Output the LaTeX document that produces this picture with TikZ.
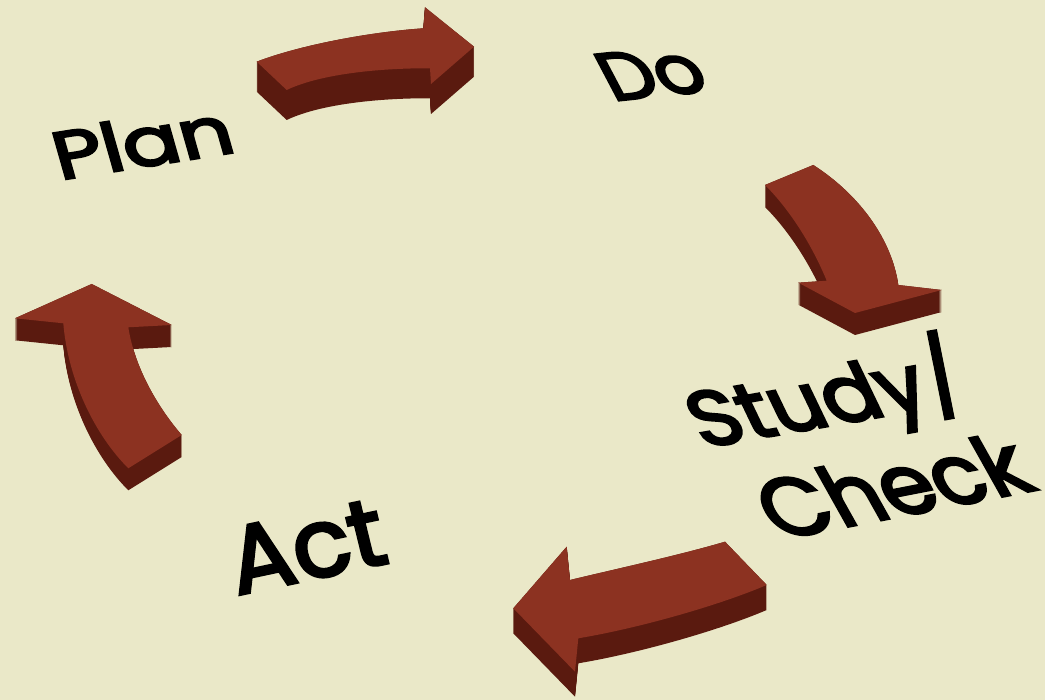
\documentclass[tikz,border=0pt]{standalone}
\usepackage{fontspec}
\setmainfont{Poppins}
\newfontfamily\lblfont{Poppins}[FakeBold=3.5]
\usepackage{graphicx}
\definecolor{bg}{RGB}{234,232,200}
\definecolor{topc}{RGB}{140,50,33}
\definecolor{sidec}{RGB}{90,26,15}
\tikzset{
  topface/.style={fill=topc},
  sideface/.style={fill=sidec},
  lbl/.style={inner sep=0pt, anchor=base west, font=\lblfont, text=black},
}
\def\arrowA{(256.7,61.7) .. controls (300,45) and (370,32) .. (423.3,28.3) -- (425,7.3) -- (474,46.7) -- (431,84) -- (430,68.3) .. controls (380,68) and (320,74) .. (286.7,90) -- cycle}
\def\arrowB{(813.3,165) .. controls (860,195) and (892,240) .. (898.3,285) -- (941.7,290) -- (855,313) -- (798.3,282.7) -- (826.7,280.7) .. controls (812,245) and (790,210) .. (765,185) -- cycle}
\def\arrowC{(725,541.7) -- (766.7,585) .. controls (720,605) and (640,628) .. (578.3,638.3) -- (575,671.7) -- (513.3,608.3) -- (566.7,546.7) -- (570,580) .. controls (620,568) and (680,555) .. (725,541.7) -- cycle}
\def\arrowD{(15,318.3) -- (91.7,284) -- (171.7,325) -- (128.3,327.3) .. controls (135,370) and (160,410) .. (181.7,435) -- (128.3,468.3) .. controls (95,435) and (68,380) .. (63.3,323.3) -- cycle}
\begin{document}
\begin{tikzpicture}[x=1pt,y=-1pt]
\fill[bg] (0,0) rectangle (1045,700);
\useasboundingbox (0,0) rectangle (1045,700);
% extruded sides
\foreach \t in {0,1,...,30} { \fill[sideface, shift={(0,\t)}] \arrowA; }
\foreach \t in {0,1,...,22} { \fill[sideface, shift={(0,\t)}] \arrowB; }
\foreach \t in {0,1,...,25} { \fill[sideface, shift={(0,\t)}] \arrowC; }
\foreach \t in {0,1,...,22} { \fill[sideface, shift={(0,\t)}] \arrowD; }
% top faces
\fill[topface] \arrowA;
\fill[topface] \arrowB;
\fill[topface] \arrowC;
\fill[topface] \arrowD;
% labels
\node[lbl, rotate=9, xslant=-0.12] (plan) at (60,180) {\resizebox{180pt}{50pt}{Plan}};
\node[lbl, rotate=6, xslant=-0.4] (do) at (613,101) {\resizebox{100pt}{48pt}{Do}};
\node[lbl, rotate=12, xslant=-0.03] (act) at (237,595) {\resizebox{157pt}{66pt}{Act}};
\node[lbl, rotate=10, xslant=-0.28] (study) at (703,448) {\resizebox{275pt}{59pt}{Study\smash{/}}};
\node[lbl, rotate=11, xslant=-0.33] (check) at (778,540) {\resizebox{265pt}{63pt}{Check}};
\end{tikzpicture}
\end{document}
